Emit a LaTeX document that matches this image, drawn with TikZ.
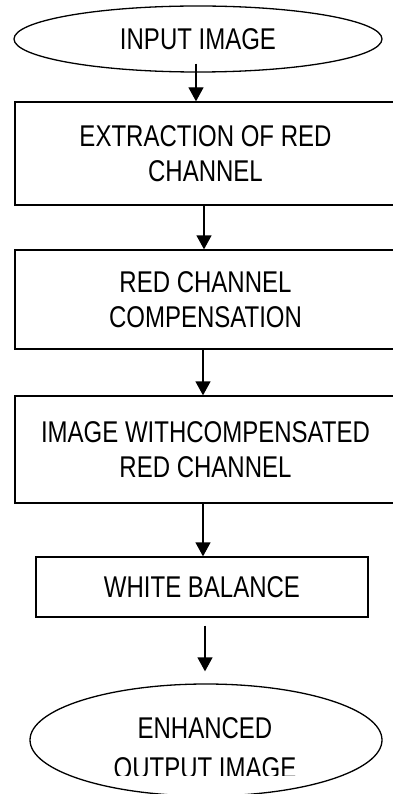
\documentclass[tikz,border=0pt]{standalone}
\usepackage{fontspec}
\setmainfont{Liberation Sans}[FakeStretch=0.8]
\usetikzlibrary{arrows.meta}
\usetikzlibrary{shapes.geometric}

\tikzset{
	flowbox/.style={draw, line width=1.3pt, align=center, inner sep=0pt},
	flowoval/.style={draw, ellipse, line width=1.3pt, align=center, inner sep=0pt},
	flowarr/.style={-{Triangle[width=15pt,length=14pt]}, line width=1.3pt},
}

\begin{document}
\begin{tikzpicture}[x=1pt,y=-1pt,font=\fontsize{30}{34.5}\selectfont]
			\useasboundingbox (0,0) rectangle (392,794);
			\node [flowoval, minimum width=368pt, minimum height=66pt] (inimg) at (198,39) {INPUT IMAGE};
			\node [flowbox, minimum width=381pt, minimum height=103pt] (extract) at (205.5,153.5) {EXTRACTION OF RED\\CHANNEL};
			\node [flowbox, minimum width=381pt, minimum height=99pt] (comp) at (205.5,299.5) {RED CHANNEL\\COMPENSATION};
			\node [flowbox, minimum width=381pt, minimum height=107pt] (imgcomp) at (205.5,449.5) {IMAGE WITHCOMPENSATED\\RED CHANNEL};
			\node [flowbox, minimum width=332pt, minimum height=60pt] (wb) at (202,587) {WHITE BALANCE};
			\node [flowoval, minimum width=352pt, minimum height=112pt] (outimg) at (206,740) {};
			\begin{scope}
				\clip (0,0) rectangle (392,775);
				\node [align=center, inner sep=0pt, font=\fontsize{30}{40}\selectfont] (outtxt) at (205,748) {ENHANCED\\OUTPUT IMAGE};
			\end{scope}
			\draw [flowarr] ([shift={(-2pt,9pt)}]inimg.south) -- ([xshift=-9.5pt]extract.north);
			\draw [flowarr] ([xshift=-1.5pt]extract.south) -- ([xshift=-1.5pt]comp.north);
			\draw [flowarr] ([xshift=-2.5pt]comp.south) -- ([xshift=-2.5pt]imgcomp.north);
			\draw [flowarr] ([xshift=-2.5pt]imgcomp.south) -- ([xshift=1pt]wb.north);
			\draw [flowarr] ([shift={(3pt,-8pt)}]wb.south) -- ([shift={(-1pt,12pt)}]outimg.north);
\end{tikzpicture}
\end{document}
